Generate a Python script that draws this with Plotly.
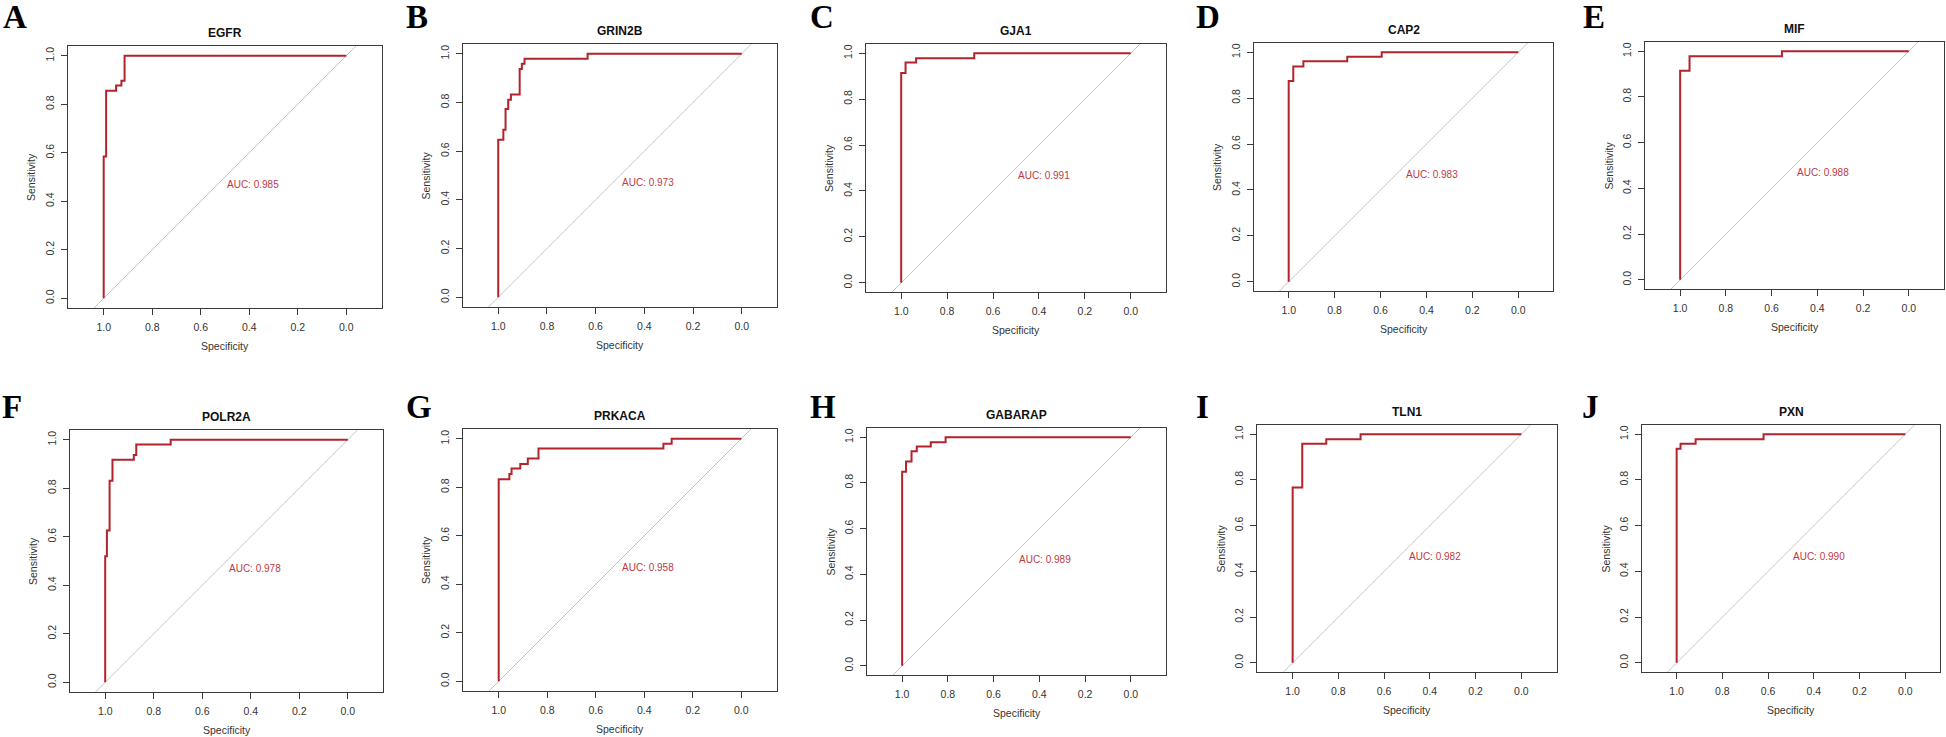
import plotly.graph_objects as go

W, H = 1946, 737

genes = ["EGFR", "GRIN2B", "GJA1", "CAP2", "MIF",
         "POLR2A", "PRKACA", "GABARAP", "TLN1", "PXN"]
letters = ["A", "B", "C", "D", "E", "F", "G", "H", "I", "J"]
auc = ["0.985", "0.973", "0.991", "0.983", "0.988",
       "0.978", "0.958", "0.989", "0.982", "0.990"]

# ROC corner points (specificity, sensitivity), drawn as steps
egfr_spec = [1.0, 1.0, 0.990, 0.949, 0.927, 0.914, 0.0]
egfr_sens = [0.0, 0.585, 0.856, 0.877, 0.897, 1.0, 1.0]
grin2b_spec = [1.0, 1.0, 0.979, 0.970, 0.959, 0.948, 0.912, 0.903, 0.892, 0.633, 0.0]
grin2b_sens = [0.0, 0.647, 0.688, 0.773, 0.811, 0.833, 0.937, 0.959, 0.979, 1.0, 1.0]
gja1_spec = [1.0, 1.0, 0.981, 0.935, 0.682, 0.0]
gja1_sens = [0.0, 0.914, 0.959, 0.978, 1.0, 1.0]
cap2_spec = [1.0, 1.0, 0.980, 0.936, 0.745, 0.595, 0.0]
cap2_sens = [0.0, 0.874, 0.938, 0.961, 0.980, 1.0, 1.0]
mif_spec = [1.0, 1.0, 0.959, 0.555, 0.0]
mif_sens = [0.0, 0.914, 0.978, 1.0, 1.0]
polr2a_spec = [1.0, 1.0, 0.993, 0.982, 0.970, 0.882, 0.872, 0.730, 0.0]
polr2a_sens = [0.0, 0.520, 0.626, 0.831, 0.917, 0.937, 0.980, 1.0, 1.0]
prkaca_spec = [1.0, 1.0, 0.956, 0.947, 0.911, 0.880, 0.836, 0.321, 0.287, 0.0]
prkaca_sens = [0.0, 0.833, 0.854, 0.877, 0.896, 0.918, 0.960, 0.979, 1.0, 1.0]
gabarap_spec = [1.0, 1.0, 0.983, 0.959, 0.936, 0.875, 0.810, 0.0]
gabarap_sens = [0.0, 0.849, 0.894, 0.938, 0.959, 0.978, 1.0, 1.0]
tln1_spec = [1.0, 1.0, 0.958, 0.853, 0.703, 0.0]
tln1_sens = [0.0, 0.767, 0.958, 0.978, 1.0, 1.0]
pxn_spec = [1.0, 1.0, 0.983, 0.917, 0.620, 0.0]
pxn_sens = [0.0, 0.936, 0.958, 0.978, 1.0, 1.0]

specs = [egfr_spec, grin2b_spec, gja1_spec, cap2_spec, mif_spec,
         polr2a_spec, prkaca_spec, gabarap_spec, tln1_spec, pxn_spec]
senses = [egfr_sens, grin2b_sens, gja1_sens, cap2_sens, mif_sens,
          polr2a_sens, prkaca_sens, gabarap_sens, tln1_sens, pxn_sens]

tick_vals = [0.0, 0.2, 0.4, 0.6, 0.8, 1.0]

# plot frames in pixels: left, top, right, bottom
boxes = [
    (68, 46, 382, 308), (463, 44, 777, 307), (866, 44, 1166, 292),
    (1254, 43, 1553, 291), (1645, 42, 1944, 289),
    (70, 430, 383, 692), (463, 429, 777, 691), (867, 428, 1166, 675),
    (1257, 425, 1557, 672), (1642, 425, 1940, 672),
]
letter_xy = [(1, 17), (404, 17), (808, 17), (1194, 17), (1581, 17),
             (0, 407), (404, 407), (808, 407), (1194, 407), (1580, 407)]

RED = "#b3232b"
TXT = "#333333"
SANS = "Liberation Sans, Arial, sans-serif"
YLO, YHI = -0.04, 1.04

fig = go.Figure()
annotations = []
layout = {}


def label(text, x, y, size, color=TXT, family=SANS, xanchor="center", angle=0):
    return dict(text=text, x=x, y=y, xref="paper", yref="paper", xanchor=xanchor,
                yanchor="middle", textangle=angle, showarrow=False,
                font=dict(family=family, size=size, color=color))


for i, gene in enumerate(genes):
    n = i + 1
    xa, ya = f"x{n}", f"y{n}"
    l, t, r, b = boxes[i]
    ppu = (b - t) / (YHI - YLO)
    ext = ((r - l) / ppu - 1) / 2  # asp = 1, like R

    # chance diagonal across the plot region
    fig.add_trace(go.Scatter(x=[1 - YLO, 1 - YHI], y=[YLO, YHI], mode="lines",
                             line=dict(color="#c4c4c4", width=1),
                             xaxis=xa, yaxis=ya, hoverinfo="skip", showlegend=False))
    fig.add_trace(go.Scatter(x=specs[i], y=senses[i], mode="lines", line_shape="hv",
                             line=dict(color=RED, width=2),
                             xaxis=xa, yaxis=ya, name=gene, showlegend=False))

    common = dict(showgrid=False, zeroline=False, showline=True, mirror=True,
                  linecolor="#3a3a3a", linewidth=1.2, ticks="outside", ticklen=6,
                  tickwidth=1, tickcolor="#3a3a3a", tickvals=tick_vals, tickformat=".1f",
                  tickfont=dict(family=SANS, size=10.5, color=TXT), ticklabelstandoff=3)
    layout[f"xaxis{n}"] = dict(common, domain=[l / W, r / W], range=[1 + ext, -ext],
                               anchor=ya)
    layout[f"yaxis{n}"] = dict(common, domain=[1 - b / H, 1 - t / H], range=[YLO, YHI],
                               anchor=xa, tickangle=-90)

    cx = (l + r) / 2 / W
    annotations += [
        label(f"<b>{gene}</b>", cx, 1 - (t - 13) / H, 12, color="#111"),
        label("Specificity", cx, 1 - (b + 38) / H, 10.5),
        label("Sensitivity", (l - 37) / W, 1 - (t + b) / 2 / H, 10.5, angle=-90),
        dict(text=f"AUC: {auc[i]}", x=0.5, y=0.5, xref=xa, yref=ya, xanchor="left",
             yanchor="top", showarrow=False, font=dict(family=SANS, size=10, color="#c0393f")),
        label(f"<b>{letters[i]}</b>", letter_xy[i][0] / W, 1 - letter_xy[i][1] / H, 33,
              color="#000", family="Liberation Serif, Times New Roman, serif", xanchor="left"),
    ]

fig.update_layout(width=W, height=H, margin=dict(l=0, r=0, t=0, b=0),
                  plot_bgcolor="white", paper_bgcolor="white",
                  annotations=annotations, **layout)

fig.write_html("out.html", config={"displayModeBar": False},
               post_script="document.body.style.margin='0';document.body.style.overflow='hidden';")
